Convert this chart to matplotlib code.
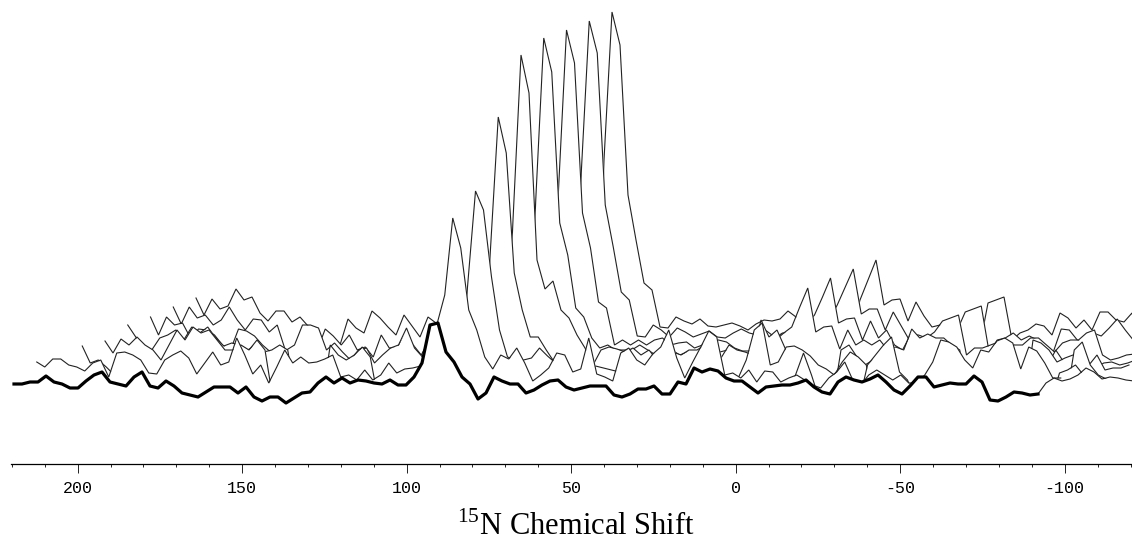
import numpy as np
import matplotlib
matplotlib.use("Agg")
import matplotlib.pyplot as plt

plt.rcParams['axes.unicode_minus'] = False
plt.rcParams['mathtext.fontset'] = 'custom'
plt.rcParams['mathtext.rm'] = 'Liberation Serif'

W, H = 1132, 542
AXIS_Y = 463.5
AXIS_LEFT = 11
PX_PER_PPM = 3.29
ZERO_PX = 735.7

tick_values = [200, 150, 100, 50, 0, -50, -100]
tick_labels = ['200', '150', '100', '50', '0', '-50', '-100']
minor_values = list(range(220, -121, -10))
axis_title = r'$^{15}\mathrm{N}$ Chemical Shift'

front = [
 384,384,382,382,376,382,384,388,388,381,
 375,372,382,384,386,377,372,386,388,381,
 386,393,395,397,392,387,387,387,393,387,
 397,401,397,397,403,398,393,392,383,377,
 383,378,383,380,381,383,384,380,385,385,
 377,363,325,323,352,362,377,384,399,393,
 377,381,384,384,393,390,385,381,380,387,
 390,388,386,386,386,395,397,394,389,389,
 386,394,394,382,384,368,372,369,371,378,
 381,381,387,393,387,386,385,385,383,380,
 387,392,394,382,377,380,382,379,375,382,
 390,394,386,377,377,387,385,383,384,384,
 376,382,400,401,397,392,393,395,394]
front_tail = [394,383,378,381,379,375,368,372,379,377,378,380,381]

trace1 = [
 362,367,359,359,365,367,371,363,360,377,
 353,352,355,360,373,374,360,355,351,358,
 374,363,352,365,362,338,355,374,365,383,
 367,350,363,357,363,362,359,355,377,375,
 380,370,380,375,363,373,369,368,366,352,
 325,295,218,248,310,330,357,369,355,359,
 348,363,381,375,368,353,355,372,369,338,
 374,377,381,353,348,360,365,354,347,330,
 358,378,362,347,331,337,375,373,378,370,
 382,371,372,382,378,375,380,385,388,378,
 372,362,380,385,375,370,375,380,375,383,
 383,375,362,340,342,347,360,368,350,352,
 341,338,343,369,347,351,363,378,378]
trace2 = [
 400,400,400,400,400,400,400,400,400,400,
 400,400,400,400,400,400,400,400,400,400,
 400,400,400,400,400,400,400,400,400,400,
 400,400,400,400,400,400,400,400,400,400,
 400,400,400,400,400,400,400,400,400,400,
 400,287,191,210,277,330,357,360,360,358,
 348,356,363,400,400,400,400,366,368,370,
 372,400,400,400,400,400,400,400,400,400,
 400,400,400,400,400,400,400,400,400,400,
 400,400,375,353,375,400,400,400,400,400,
 400,365,355,345,337,372,380,400,400,400,
 400,400,400,400,400,400,400,400,400,400,
 400,400,400,400,400,373,370,365,375]
trace3 = [
 346,363,360,367,375,400,400,400,400,400,
 400,400,400,400,400,400,400,400,400,400,
 400,400,400,400,400,400,400,400,400,400,
 400,345,355,360,355,347,357,400,400,400,
 400,400,400,400,400,400,400,400,400,400,
 400,253,117,153,273,310,337,337,350,362,
 372,400,400,400,400,400,400,400,400,400,
 400,400,400,400,400,400,400,400,400,400,
 400,400,378,360,330,323,365,362,347,346,
 350,356,365,369,375,362,352,357,365,400,
 400,400,400,400,400,400,400,400,400,400,
 400,400,400,400,400,400,400,400,400,400,
 400,400,400,400,350,342,365,375,379]
trace4 = [
 341,353,339,345,337,345,350,360,345,330,
 340,327,333,330,340,350,350,345,350,340,
 350,400,400,400,400,400,400,400,400,400,
 400,400,400,400,400,400,400,400,400,400,
 400,400,400,400,400,400,400,400,400,400,
 400,220,55,93,260,289,281,310,318,335,
 348,365,350,347,349,352,348,355,350,360,
 355,352,355,350,350,345,352,358,345,350,
 352,355,320,337,330,348,365,400,400,400,
 400,400,350,345,357,365,360,370,375,400,
 400,400,400,400,400,400,400,400,400,400,
 400,400,400,400,400,400,340,343,350,362,
 358,355,360,365,355,370,368,368,365]
trace5 = [
 325,337,347,350,338,335,330,340,327,333,
 327,338,346,343,345,350,345,352,350,345,
 350,400,400,400,400,400,400,400,400,400,
 400,400,400,400,400,400,400,400,400,400,
 400,400,400,400,400,400,400,400,400,400,
 400,200,38,72,223,255,308,317,338,348,
 345,350,350,350,345,350,355,348,350,355,
 352,352,350,348,352,350,352,360,350,345,
 345,340,333,327,307,288,332,327,326,349,
 330,345,340,345,340,350,347,350,329,338,
 334,338,338,345,350,400,400,400,400,400,
 400,400,400,358,362,365,350,362,370,358,
 368,368,363,362,365,363,360,358,356]
trace6 = [
 317,335,317,325,323,338,329,330,335,345,
 350,329,331,336,345,352,350,350,345,325,
 325,328,350,343,352,360,350,348,363,355,
 348,345,328,348,357,400,400,400,400,400,
 400,400,400,400,400,400,400,400,400,400,
 400,190,30,63,213,248,302,308,345,340,
 345,340,345,340,338,345,343,342,348,345,
 340,340,342,348,351,351,345,340,338,333,
 333,330,325,315,297,278,323,319,318,340,
 321,338,330,345,350,335,335,338,332,321,
 318,315,355,348,348,345,342,342,345,345,
 338,338,345,352,343,340,340,333,330,355,
 360,358,355,354,352,350,350,350,350]
trace7 = [
 307,324,307,318,315,325,320,307,320,330,
 319,320,332,325,350,365,380,375,350,329,
 336,345,335,350,347,357,335,348,348,335,
 345,355,340,400,400,400,400,400,400,400,
 400,400,400,400,400,400,400,400,400,400,
 400,173,21,53,205,247,292,300,336,337,
 325,330,337,328,332,337,334,331,337,338,
 333,329,333,335,330,336,335,333,335,335,
 332,335,320,305,287,269,314,309,309,330,
 312,326,340,345,345,345,345,340,330,312,
 309,306,353,340,338,333,340,336,340,350,
 352,329,330,340,342,333,336,328,319,330,
 340,340,340,340,340,340,340,340,340]
trace8 = [
 298,315,299,309,306,289,300,297,313,321,
 311,311,322,317,326,328,350,345,345,319,
 328,333,311,318,327,335,315,326,337,317,
 323,330,335,340,345,350,400,400,400,400,
 400,400,400,400,400,400,400,400,400,400,
 400,160,12,45,195,240,283,290,327,328,
 317,321,324,319,326,327,325,323,326,330,
 324,320,321,319,311,317,320,320,318,318,
 330,330,330,300,280,260,305,300,299,321,
 302,316,327,325,345,345,345,345,345,303,
 300,297,340,333,330,324,326,335,313,318,
 328,320,330,312,312,320,322,313,340,340,
 340,340,340,340,340,340,340,340,340]

back_traces = [trace1, trace2, trace3, trace4, trace5, trace6, trace7, trace8]

PPM_START = (ZERO_PX - 14) / PX_PER_PPM
PPM_STEP = 8.0 / PX_PER_PPM
PPM_SKEW = 22.75 / PX_PER_PPM


def ppm_axis(n, k=0, first=0):
    return PPM_START - k * PPM_SKEW - PPM_STEP * (first + np.arange(n))


fig = plt.figure(figsize=(W / 100, H / 100), dpi=100, facecolor='white')
ax = fig.add_axes([AXIS_LEFT / W, (H - AXIS_Y) / H, (W - AXIS_LEFT) / W, AXIS_Y / H])
ax.set_xlim((ZERO_PX - AXIS_LEFT) / PX_PER_PPM, (ZERO_PX - W) / PX_PER_PPM)
ax.set_ylim(AXIS_Y, 0)

z = 2
for k in range(8, 0, -1):
    y = np.array(back_traces[k - 1], float)
    x = ppm_axis(len(y), k)
    ax.fill_between(x, y, AXIS_Y, color='white', lw=0, zorder=z)
    ax.plot(x, y, color='#222222', lw=0.8, zorder=z + 0.1, solid_joinstyle='miter')
    z += 1

y = np.array(front_tail, float)
x = ppm_axis(len(y), 0, len(front) - 1)
ax.fill_between(x, y, AXIS_Y, color='white', lw=0, zorder=z)
ax.plot(x, y, color='#222222', lw=0.8, zorder=z + 0.1)
y = np.array(front, float)
x = ppm_axis(len(y))
ax.fill_between(x, y, AXIS_Y, color='white', lw=0, zorder=z)
ax.plot(x, y, color='black', lw=2.3, zorder=z + 0.2, solid_joinstyle='round')

for s in ['top', 'left', 'right']:
    ax.spines[s].set_visible(False)
ax.spines['bottom'].set_linewidth(0.9)
ax.spines['bottom'].set_zorder(50)
ax.yaxis.set_visible(False)
ax.patch.set_alpha(0)
ax.set_xticks(tick_values)
ax.set_xticklabels(tick_labels, fontfamily='Liberation Mono', fontsize=12)
ax.set_xticks(minor_values, minor=True)
ax.tick_params(axis='x', which='major', length=6.5, width=0.7, pad=6, color='#222222')
ax.tick_params(axis='x', which='minor', length=2.5, width=0.7, color='#222222')

fig.text(576 / W, (H - 535) / H, axis_title, ha='center', va='baseline',
         family='Liberation Serif', fontsize=22, color='black')

fig.savefig('out.png', dpi=100, facecolor='white')
